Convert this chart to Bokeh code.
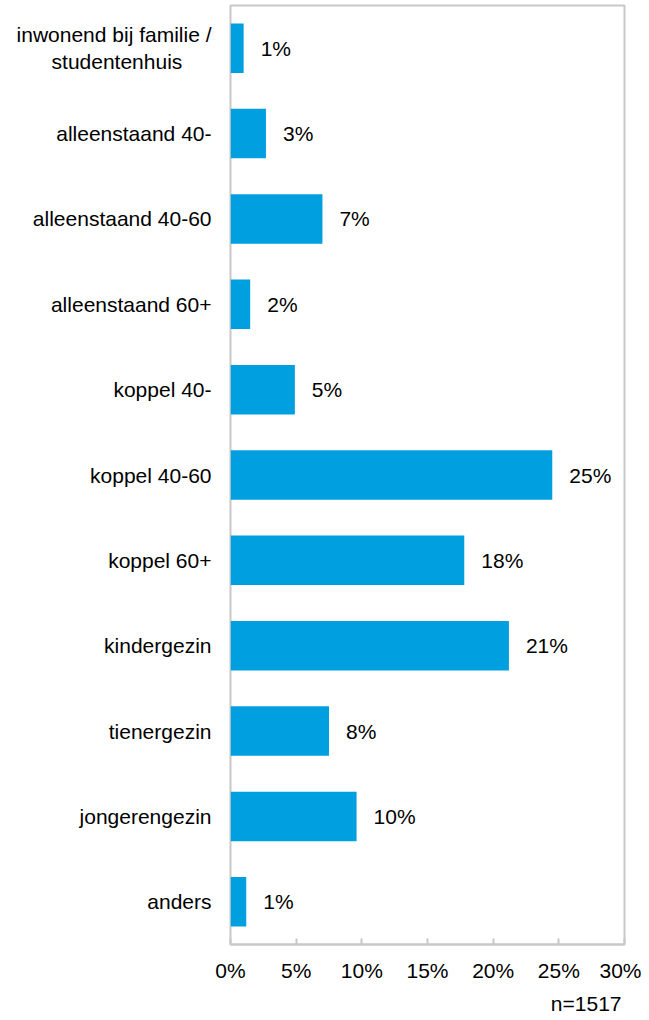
from bokeh.plotting import figure
from bokeh.models import FactorRange, Range1d, FixedTicker, Title, ColumnDataSource
from bokeh.core.properties import value
from bokeh.embed import file_html
from bokeh.resources import INLINE

PAD = "\u00a0" * 5 + "\u2060"
categories = [
    "inwonend bij familie /\nstudentenhuis" + PAD,
    "alleenstaand 40-",
    "alleenstaand 40-60",
    "alleenstaand 60+",
    "koppel 40-",
    "koppel 40-60",
    "koppel 60+",
    "kindergezin",
    "tienergezin",
    "jongerengezin",
    "anders",
]
shares = [1.0, 2.7, 7.0, 1.5, 4.9, 24.5, 17.8, 21.2, 7.5, 9.6, 1.2]
share_labels = ["1%", "3%", "7%", "2%", "5%", "25%", "18%", "21%", "8%", "10%", "1%"]
x_ticks = [0, 5, 10, 15, 20, 25, 30]
x_tick_labels = ["0%", "5%", "10%", "15%", "20%", "25%", "30%"]
sample_note = "n=1517"

FONT = "Liberation Sans"
FS = "21px"
BAR = "#009FDF"
GRAY = "#C8C8C8"

src = ColumnDataSource(dict(cat=categories, share=shares, label=share_labels))

p = figure(
    width=641, height=1020,
    y_range=FactorRange(factors=list(reversed(categories)), range_padding=0),
    x_range=Range1d(0, 30),
    output_backend="svg", toolbar_location=None,
    min_border_left=230, min_border_right=17, min_border_top=5, min_border_bottom=0,
)

p.hbar(y="cat", left=0, right="share", height=0.58, source=src,
       fill_color=BAR, line_color=None)
p.text(x="share", y="cat", text="label", source=src, x_offset=17,
       text_baseline="middle", text_align="left",
       text_font=value(FONT), text_font_size=FS, text_color="#000000")

p.outline_line_color = GRAY
p.outline_line_width = 2
p.xgrid.grid_line_color = None
p.ygrid.grid_line_color = None
p.background_fill_color = "white"
p.border_fill_color = "white"

xa = p.xaxis[0]
xa.ticker = FixedTicker(ticks=x_ticks)
xa.major_label_overrides = {t: l for t, l in zip(x_ticks, x_tick_labels)}
xa.axis_line_color = GRAY
xa.axis_line_width = 2
xa.major_tick_line_color = GRAY
xa.major_tick_line_width = 2
xa.major_tick_in = 6
xa.major_tick_out = 0
xa.minor_tick_line_color = None
xa.major_label_standoff = 14
xa.major_label_text_font = FONT
xa.major_label_text_font_size = FS
xa.major_label_text_color = "#000000"

ya = p.yaxis[0]
ya.axis_line_color = None
ya.major_tick_line_color = None
ya.minor_tick_line_color = None
ya.major_tick_out = 0
ya.major_tick_in = 0
ya.major_label_standoff = 19
ya.major_label_text_font = FONT
ya.major_label_text_font_size = FS
ya.major_label_text_color = "#000000"

note = Title(text=sample_note, align="right", offset=3, standoff=11,
             text_font=FONT, text_font_size=FS, text_font_style="normal",
             text_color="#000000")
p.add_layout(note, "below")

open("out.html", "w").write(file_html(p, INLINE))
